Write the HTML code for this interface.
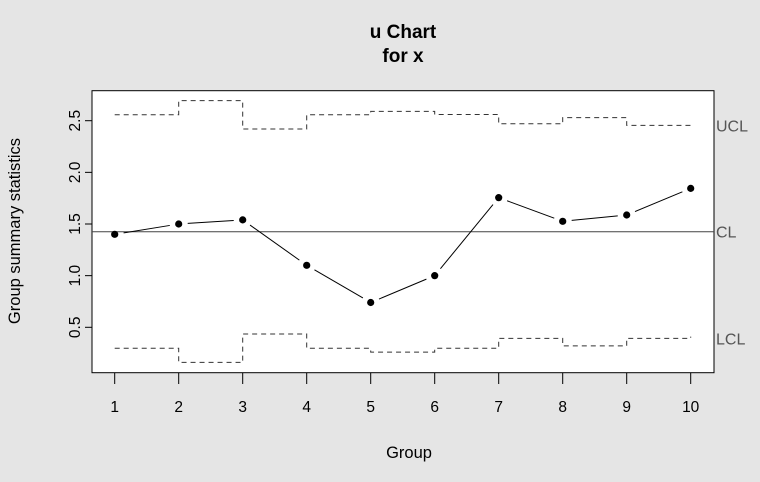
<!DOCTYPE html>
<html><head><meta charset="utf-8"><style>
body{margin:0;background:#e5e5e5;}
svg{display:block;font-family:"Liberation Sans",Arial,sans-serif;}
</style></head><body>
<svg width="760" height="482" id="chart">
<rect x="0" y="0" width="760" height="482" fill="#e5e5e5"/>
<text x="403" y="38" text-anchor="middle" font-size="19" font-weight="bold">u Chart</text>
<text x="403" y="62" text-anchor="middle" font-size="19" font-weight="bold">for x</text>
<rect x="92" y="90.7" width="622" height="282" fill="#fff" stroke="#000" stroke-width="1"/>
<g id="marks"></g>
<text x="409" y="458" text-anchor="middle" font-size="16.5">Group</text>
<text transform="translate(20,231) rotate(-90)" text-anchor="middle" font-size="16.5">Group summary statistics</text>
</svg>
<script>
const groups=[1,2,3,4,5,6,7,8,9,10];
const stats=[1.40,1.50,1.54,1.10,0.74,1.00,1.755,1.526,1.587,1.845];
const ucl=[2.558,2.694,2.42,2.558,2.59,2.56,2.47,2.53,2.455,2.44];
const lcl=[0.297,0.16,0.435,0.297,0.26,0.297,0.393,0.32,0.393,0.41];
const center=[1.425];
const yTicks=[0.5,1.0,1.5,2.0,2.5];
const yTickLabels=["0.5","1.0","1.5","2.0","2.5"];

const NS="http://www.w3.org/2000/svg";
const g=document.getElementById('marks');
const X=i=>114.7+(i-1)*64;
const Y=v=>120.7+(2.5-v)*103.3;
function mk(t,a){const e=document.createElementNS(NS,t);for(const k in a)e.setAttribute(k,a[k]);g.appendChild(e);return e;}

yTicks.forEach((v,i)=>{
  const t=mk('line',{x1:85,x2:92,y1:Y(v),y2:Y(v),stroke:'#000'});
  
  
  const l=mk('text',{transform:`translate(80,${Y(v)}) rotate(-90)`,'text-anchor':'middle','font-size':'15.5'});
  l.textContent=yTickLabels[i];
  
  
});
groups.forEach(gr=>{
  const t=mk('line',{x1:X(gr),x2:X(gr),y1:372.7,y2:384,stroke:'#000'});
  
  
  const l=mk('text',{x:X(gr),y:412,'text-anchor':'middle','font-size':'15.5'});
  l.textContent=String(gr);
  
  
});
function steps(arr){
  let d='M'+X(groups[0])+','+Y(arr[0]);
  for(let i=1;i<arr.length;i++){
    d+=' H'+X(groups[i])+' V'+Y(arr[i]);
  }
  return d;
}
const u=mk('path',{d:steps(ucl),fill:'none',stroke:'#333','stroke-dasharray':'5,4'});


const lo=mk('path',{d:steps(lcl),fill:'none',stroke:'#333','stroke-dasharray':'5,4'});


const c=mk('line',{x1:92,x2:714,y1:Y(center[0]),y2:Y(center[0]),stroke:'#444'});


for(let i=0;i<stats.length-1;i++){
  const x0=X(groups[i]),y0=Y(stats[i]),x1=X(groups[i+1]),y1=Y(stats[i+1]);
  const dx=x1-x0,dy=y1-y0,L=Math.hypot(dx,dy),gp=9;
  const s=mk('line',{x1:x0+dx/L*gp,y1:y0+dy/L*gp,x2:x1-dx/L*gp,y2:y1-dy/L*gp,stroke:'#000'});
  
  
}
stats.forEach((v,i)=>{
  const p=mk('circle',{cx:X(groups[i]),cy:Y(v),r:3.6,fill:'#000'});
  
  
});
[['UCL',ucl[ucl.length-2]],['CL',center[0]],['LCL',lcl[lcl.length-2]]].forEach(([t,v])=>{
  const l=mk('text',{x:716,y:Y(v)+6,'font-size':'16',fill:'#555'});
  l.textContent=t;
  
  
});
</script>
</body></html>
